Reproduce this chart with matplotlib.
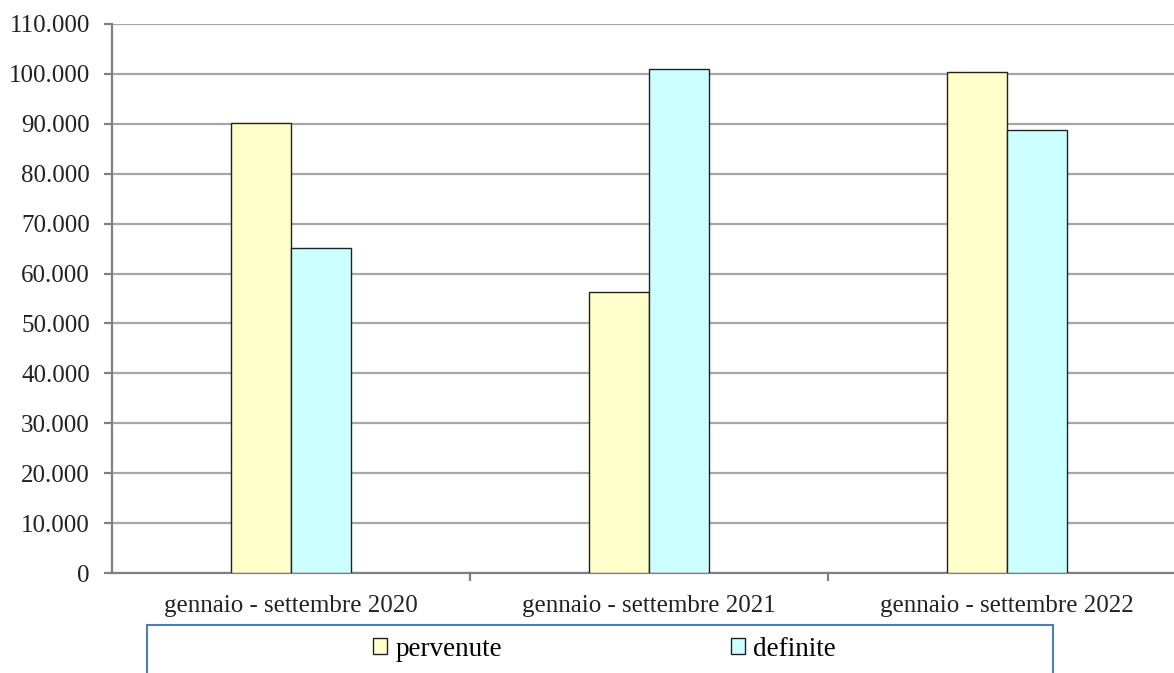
import matplotlib
matplotlib.use('Agg')
import matplotlib.pyplot as plt
import numpy as np
from matplotlib.patches import Patch, Rectangle

# data
categories = ['gennaio - settembre 2020', 'gennaio - settembre 2021', 'gennaio - settembre 2022']
pervenute = [90100, 56250, 100400]
definite = [65200, 100900, 88800]
y_ticks = np.arange(0, 110001, 10000)

plt.rcParams['font.family'] = ['Liberation Serif', 'DejaVu Serif']

fig = plt.figure(figsize=(11.74, 6.73), dpi=100)
ax = fig.add_axes([112 / 1174, 100 / 673, 1074 / 1174, 549 / 673])

x = np.arange(len(categories))
w = 60 / 358
ax.bar(x - w / 2, pervenute, w, color='#FFFFCC', edgecolor='#222222', linewidth=1, zorder=3)
ax.bar(x + w / 2, definite, w, color='#CCFFFF', edgecolor='#222222', linewidth=1, zorder=3)

ax.set_xlim(-0.5, len(categories) - 0.5)
ax.set_ylim(0, 110000)
ax.set_yticks(y_ticks)
ax.set_yticklabels([f'{v:,.0f}'.replace(',', '.') for v in y_ticks])
ax.set_xticks(x)
ax.set_xticklabels(categories)
ax.set_xticks(x[:-1] + 0.5, minor=True)

ax.grid(axis='y', color='#A6A6A6', linewidth=1.6, zorder=0)
for s in ['top', 'right']:
    ax.spines[s].set_visible(False)
for s in ['left', 'bottom']:
    ax.spines[s].set_color('#808080')
    ax.spines[s].set_linewidth(1.6)

ax.tick_params(axis='y', length=6, width=1.6, color='#808080', pad=10,
               labelsize=18, labelcolor='#222222')
ax.tick_params(axis='x', which='major', length=0, pad=16, labelsize=18, labelcolor='#222222')
ax.tick_params(axis='x', which='minor', length=6, width=1.6, color='#808080')

# legend box (cut by the image bottom)
fig.patches.append(Rectangle((147 / 1174, -0.1), 906 / 1174, 0.1 + 48 / 673,
                             transform=fig.transFigure, fill=False,
                             edgecolor='#4A7EBB', linewidth=1.5))
series = [('pervenute', '#FFFFCC', 373), ('definite', '#CCFFFF', 731)]
for label, color, xpos in series:
    fig.legend(handles=[Patch(facecolor=color, edgecolor='#222222', label=label)],
               frameon=False, loc='center left', bbox_to_anchor=(xpos / 1174, 24 / 673),
               fontsize=19.5, borderpad=0, borderaxespad=0,
               handlelength=0.53, handleheight=0.5, handletextpad=0.3)

fig.savefig('out.png', dpi=100)
